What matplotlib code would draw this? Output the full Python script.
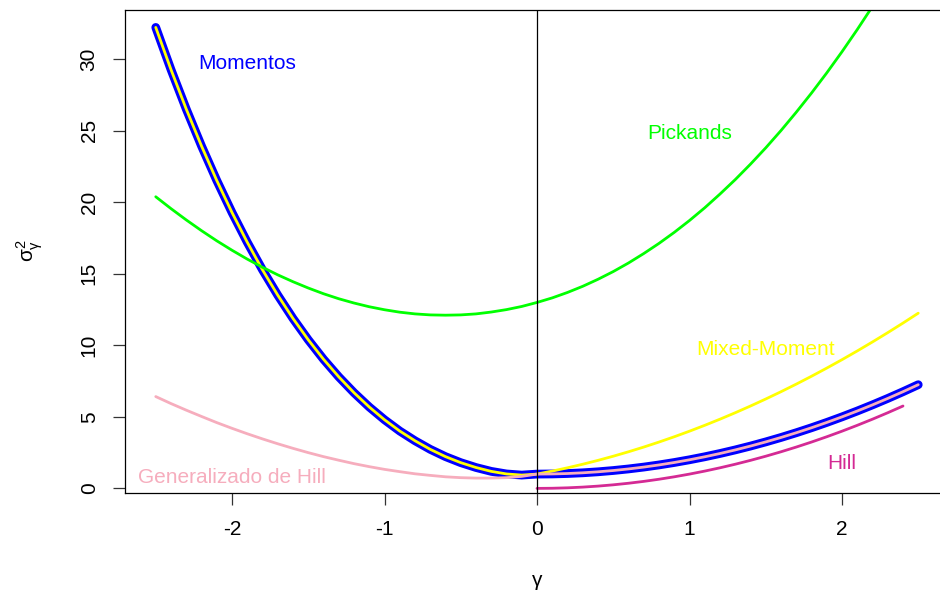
import matplotlib
matplotlib.use("Agg")
import matplotlib.pyplot as plt

plt.rcParams["font.family"] = ["Liberation Sans", "DejaVu Sans"]
plt.rcParams["mathtext.fontset"] = "custom"
plt.rcParams["mathtext.rm"] = "Liberation Sans"
plt.rcParams["mathtext.it"] = "Liberation Sans"

# asymptotic variance of each estimator against gamma
gamma = [-2.5, -2.4, -2.3, -2.2, -2.1, -2.0, -1.9, -1.8, -1.7, -1.6,
         -1.5, -1.4, -1.3, -1.2, -1.1, -1.0, -0.9, -0.8, -0.7, -0.6,
         -0.5, -0.4, -0.3, -0.2, -0.1, 0.0, 0.1, 0.2, 0.3, 0.4,
         0.5, 0.6, 0.7, 0.8, 0.9, 1.0, 1.1, 1.2, 1.3, 1.4,
         1.5, 1.6, 1.7, 1.8, 1.9, 2.0, 2.1, 2.2, 2.3, 2.4, 2.5]

momentos = [32.23, 29.28, 26.52, 23.94, 21.53, 19.29, 17.21, 15.28, 13.51, 11.88,
            10.39, 9.03, 7.80, 6.69, 5.69, 4.80, 4.01, 3.33, 2.73, 2.22,
            1.80, 1.46, 1.19, 1.01, 0.93, 1.00, 1.01, 1.04, 1.09, 1.16,
            1.25, 1.36, 1.49, 1.64, 1.81, 2.00, 2.21, 2.44, 2.69, 2.96,
            3.25, 3.56, 3.89, 4.24, 4.61, 5.00, 5.41, 5.84, 6.29, 6.76, 7.25]

mixed_moment = [32.23, 29.28, 26.52, 23.94, 21.53, 19.29, 17.21, 15.28, 13.51, 11.88,
                10.39, 9.03, 7.80, 6.69, 5.69, 4.80, 4.01, 3.33, 2.73, 2.22,
                1.80, 1.46, 1.19, 1.01, 0.93, 1.00, 1.21, 1.44, 1.69, 1.96,
                2.25, 2.56, 2.89, 3.24, 3.61, 4.00, 4.41, 4.84, 5.29, 5.76,
                6.25, 6.76, 7.29, 7.84, 8.41, 9.00, 9.61, 10.24, 10.89, 11.56, 12.25]

gen_hill = [6.42, 5.93, 5.47, 5.03, 4.60, 4.20, 3.82, 3.46, 3.12, 2.80,
            2.50, 2.22, 1.97, 1.73, 1.52, 1.33, 1.17, 1.02, 0.91, 0.81,
            0.75, 0.72, 0.72, 0.75, 0.84, 1.00, 1.01, 1.04, 1.09, 1.16,
            1.25, 1.36, 1.49, 1.64, 1.81, 2.00, 2.21, 2.44, 2.69, 2.96,
            3.25, 3.56, 3.89, 4.24, 4.61, 5.00, 5.41, 5.84, 6.29, 6.76, 7.25]

pickands = [20.39, 19.56, 18.77, 18.02, 17.31, 16.65, 16.03, 15.46, 14.93, 14.45,
            14.01, 13.61, 13.26, 12.96, 12.70, 12.49, 12.32, 12.20, 12.13, 12.11,
            12.13, 12.20, 12.33, 12.50, 12.72, 13.00, 13.32, 13.70, 14.13, 14.62,
            15.16, 15.76, 16.42, 17.13, 17.90, 18.73, 19.62, 20.58, 21.59, 22.67,
            23.81, 25.02, 26.30, 27.64, 29.05, 30.53, 32.08, 33.70, 35.39, 37.15, 38.99]

gamma_hill = [0.0, 0.1, 0.2, 0.3, 0.4, 0.5, 0.6, 0.7, 0.8, 0.9,
              1.0, 1.1, 1.2, 1.3, 1.4, 1.5, 1.6, 1.7, 1.8, 1.9,
              2.0, 2.1, 2.2, 2.3, 2.4]
hill = [0.00, 0.01, 0.04, 0.09, 0.16, 0.25, 0.36, 0.49, 0.64, 0.81,
        1.00, 1.21, 1.44, 1.69, 1.96, 2.25, 2.56, 2.89, 3.24, 3.61,
        4.00, 4.41, 4.84, 5.29, 5.76]

FS = 15
LW = 2.0
PINK = "#F6ADBD"
VIOLET = "#D42A94"

fig = plt.figure(figsize=(9.4, 5.9), dpi=100)
ax = fig.add_axes([125.25 / 940, 97 / 590, 823.5 / 940, 483.5 / 590])

ax.plot(gamma, momentos, color="blue", lw=6.3, solid_capstyle="round")
ax.plot(gamma, mixed_moment, color="yellow", lw=LW, solid_capstyle="round")
ax.plot(gamma, gen_hill, color=PINK, lw=LW, solid_capstyle="round")
ax.plot(gamma, pickands, color="#00FF00", lw=LW, solid_capstyle="round")
ax.plot(gamma_hill, hill, color=VIOLET, lw=LW, solid_capstyle="round")
ax.axvline(0, color="black", lw=0.9)

# R-style 4% padding around the Momentos curve
xr = max(gamma) - min(gamma)
yr = max(momentos) - min(momentos)
ax.set_xlim(min(gamma) - 0.04 * xr, max(gamma) + 0.04 * xr)
ax.set_ylim(min(momentos) - 0.04 * yr, max(momentos) + 0.04 * yr)

ax.set_xticks([-2, -1, 0, 1, 2])
ax.set_xticklabels(["-2", "-1", "0", "1", "2"])
ax.set_yticks([0, 5, 10, 15, 20, 25, 30])
ax.tick_params(direction="out", length=8.6, width=0.9, labelsize=FS, color="#333333")
ax.tick_params(axis="x", pad=10.5)
ax.tick_params(axis="y", pad=10.5)
for lab in ax.get_yticklabels():
    lab.set_rotation(90)
    lab.set_va("center")
for s in ax.spines.values():
    s.set_linewidth(0.9)

ax.text(-1.9, 29.7, "Momentos", color="blue", fontsize=FS, ha="center", va="center")
ax.text(1.0, 24.8, "Pickands", color="#00FF00", fontsize=FS, ha="center", va="center")
ax.text(1.5, 9.7, "Mixed-Moment", color="yellow", fontsize=FS, ha="center", va="center")
ax.text(2.0, 1.75, "Hill", color=VIOLET, fontsize=FS, ha="center", va="center")
ax.text(-2.0, 0.75, "Generalizado de Hill", color=PINK, fontsize=FS, ha="center", va="center")

fig.text(537 / 940, 1 - 580 / 590, "γ", fontsize=FS, ha="center", va="center")
fig.text(30 / 940, 1 - 250 / 590, r"$\sigma_{\gamma}^{2}$", fontsize=FS,
         rotation=90, ha="center", va="center")

fig.savefig("out.png", dpi=100)
